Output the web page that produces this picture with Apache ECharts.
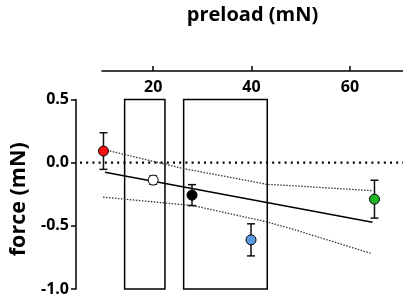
<!DOCTYPE html>
<html>
<head>
<meta charset="utf-8">
<script src="https://cdn.jsdelivr.net/npm/echarts@6/dist/echarts.min.js"></script>
<style>
html, body { margin: 0; padding: 0; background: #fff; }
#chart { width: 403px; height: 300px; }
</style>
</head>
<body>
<div id="chart"></div>
<script>
// 数据：预载荷 (mN) 与力 (mN)
const preload = [9.9, 20, 27.9, 39.9, 65];
const force = [0.092, -0.138, -0.257, -0.611, -0.289];
const forceErr = [0.145, 0.033, 0.083, 0.127, 0.15];
const pointColors = ['#ff1010', '#ffffff', '#000000', '#5b9ae6', '#22b522'];

// 回归线和置信带
const fitX = [10.2, 64.6];
const fitY = [-0.075, -0.472];
const upperX = [10.6, 22.2, 26.2, 34, 43.2, 48.2, 64.6];
const upperY = [0.098, -0.01, -0.047, -0.104, -0.172, -0.182, -0.222];
const lowerX = [9.8, 28.2, 42.8, 48.2, 64.2];
const lowerY = [-0.273, -0.34, -0.466, -0.524, -0.717];

// 方框范围
const boxStart = [14.2, 26.2];
const boxEnd = [22.4, 43.2];

// 坐标轴
const xMin = 9.6;
const xMax = 70.8;
const xTicks = [20, 40, 60];
const yMin = -1.0;
const yMax = 0.5;

const yAxisOffset = 26;
const fontFamily = 'Open Sans';

const chart = echarts.init(document.getElementById('chart'));

const pairs = (xs, ys) => xs.map((x, i) => [x, ys[i]]);

const option = {
    animation: false,
    grid: { left: 97, right: 0, top: 99.5, bottom: 11 },
    xAxis: {
        type: 'value',
        position: 'top',
        offset: 28.5,
        min: xMin,
        max: xMax,
        name: 'preload (mN)',
        nameLocation: 'middle',
        nameGap: 46,
        nameTextStyle: { fontFamily: fontFamily, fontWeight: 'bold', fontSize: 20, color: '#000' },
        axisLine: { onZero: false, lineStyle: { color: '#000', width: 1.5 } },
        axisTick: { customValues: xTicks, length: 5, lineStyle: { color: '#000', width: 1.5 } },
        axisLabel: {
            customValues: xTicks,
            inside: true,
            margin: 8,
            fontFamily: fontFamily,
            fontWeight: 'bold',
            fontSize: 16,
            color: '#000'
        },
        splitLine: { show: false }
    },
    yAxis: {
        type: 'value',
        offset: yAxisOffset,
        min: yMin,
        max: yMax,
        interval: 0.5,
        name: 'force (mN)',
        nameLocation: 'middle',
        nameGap: 46,
        nameTextStyle: {
            fontFamily: fontFamily,
            fontWeight: 'bold',
            fontSize: 21.5,
            color: '#000',
            padding: [0, 10, 0, 0]
        },
        axisLine: { show: true, onZero: false, lineStyle: { color: '#000', width: 1.5 } },
        axisTick: { show: true, length: 5, lineStyle: { color: '#000', width: 1.5 } },
        axisLabel: {
            margin: 7,
            fontFamily: fontFamily,
            fontWeight: 'bold',
            fontSize: 16,
            color: '#000',
            formatter: (v) => v.toFixed(1)
        },
        splitLine: { show: false }
    },
    series: [
        {
            // 方框
            type: 'custom',
            z: 1,
            data: boxStart.map((s, i) => [s, boxEnd[i]]),
            renderItem: function (params, api) {
                const p0 = api.coord([api.value(0), yMax]);
                const p1 = api.coord([api.value(1), yMin]);
                return {
                    type: 'rect',
                    shape: { x: p0[0], y: p0[1], width: p1[0] - p0[0], height: p1[1] - p0[1] },
                    style: { fill: 'none', stroke: '#000', lineWidth: 1.5 }
                };
            }
        },
        {
            // 零线，从y轴开始
            type: 'custom',
            z: 2,
            data: [[xMin, 0]],
            renderItem: function (params, api) {
                const cs = params.coordSys;
                const y = api.coord([api.value(0), api.value(1)])[1];
                return {
                    type: 'line',
                    shape: { x1: cs.x - yAxisOffset + 4, y1: y, x2: cs.x + cs.width, y2: y },
                    style: { stroke: '#000', lineWidth: 2.2, lineDash: [2, 4.2] }
                };
            }
        },
        {
            type: 'line',
            z: 3,
            data: pairs(fitX, fitY),
            showSymbol: false,
            lineStyle: { color: '#000', width: 1.5 }
        },
        {
            type: 'line',
            z: 3,
            data: pairs(upperX, upperY),
            showSymbol: false,
            lineStyle: { color: '#333', width: 1.3, type: [1.5, 1.5] }
        },
        {
            type: 'line',
            z: 3,
            data: pairs(lowerX, lowerY),
            showSymbol: false,
            lineStyle: { color: '#333', width: 1.3, type: [1.5, 1.5] }
        },
        {
            // 误差线
            type: 'custom',
            z: 4,
            data: preload.map((x, i) => [x, force[i] - forceErr[i], force[i] + forceErr[i]]),
            renderItem: function (params, api) {
                const lo = api.coord([api.value(0), api.value(1)]);
                const hi = api.coord([api.value(0), api.value(2)]);
                const cap = 4;
                const st = { stroke: '#111', lineWidth: 1.5 };
                return {
                    type: 'group',
                    children: [
                        { type: 'line', shape: { x1: lo[0], y1: lo[1], x2: hi[0], y2: hi[1] }, style: st },
                        { type: 'line', shape: { x1: lo[0] - cap, y1: lo[1], x2: lo[0] + cap, y2: lo[1] }, style: st },
                        { type: 'line', shape: { x1: hi[0] - cap, y1: hi[1], x2: hi[0] + cap, y2: hi[1] }, style: st }
                    ]
                };
            }
        },
        {
            type: 'scatter',
            z: 5,
            symbolSize: 10,
            data: preload.map((x, i) => ({
                value: [x, force[i]],
                itemStyle: { color: pointColors[i] }
            })),
            itemStyle: { borderColor: '#000', borderWidth: 1, opacity: 1 }
        }
    ]
};

chart.setOption(option);
</script>
</body>
</html>
